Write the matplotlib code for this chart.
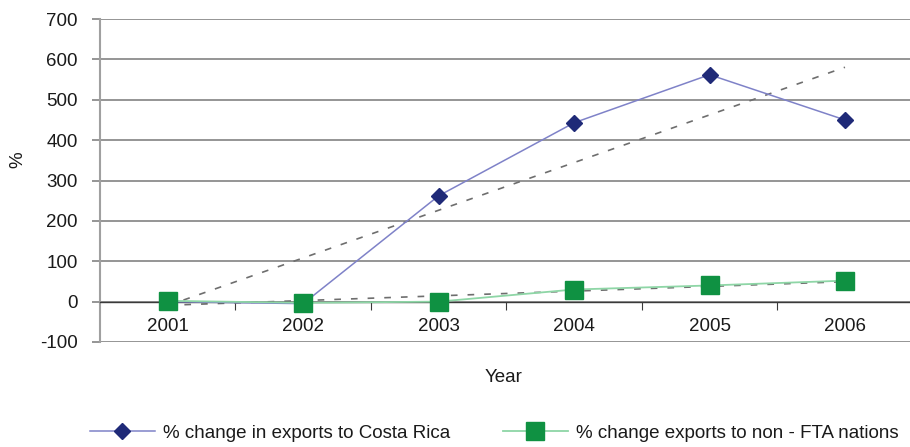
import numpy as np
import matplotlib
matplotlib.use("Agg")
import matplotlib.pyplot as plt

plt.rcParams['font.family'] = ['Liberation Sans', 'DejaVu Sans']
plt.rcParams['axes.unicode_minus'] = False

years = ['2001', '2002', '2003', '2004', '2005', '2006']
costa_rica = [0, -5, 262, 443, 562, 450]
non_fta = [2, -3, 0, 30, 40, 52]

x = np.arange(1, len(years) + 1)
fs = 13.5

fig = plt.figure(figsize=(9.1, 4.47), dpi=100)
ax = fig.add_axes([100 / 910, 1 - 342 / 447, 812.7 / 910, 323 / 447])

# horizontal grid
for g in range(-100, 701, 100):
    ax.axhline(g, color='#8c8c8c', lw=1.3, zorder=0)

# linear trend lines
for series in (costa_rica, non_fta):
    k, b = np.polyfit(x, series, 1)
    ax.plot(x, k * x + b, color='#6e6e6e', lw=1.2, ls=(0, (4, 6)), zorder=2)

ax.plot(x, costa_rica, color='#7f82c8', lw=1.1, marker='D', ms=8,
        mfc='#1f2a78', mec='#1f2a78', zorder=3,
        label='% change in exports to Costa Rica')
ax.plot(x, non_fta, color='#8ed6a6', lw=1.3, marker='s', ms=13,
        mfc='#0f9142', mec='#0f9142', zorder=4,
        label='% change exports to non - FTA nations')

ax.set_xlim(0.5, 6.5)
ax.set_ylim(-100, 700)
ax.set_yticks(range(-100, 701, 100))

# x axis sits on the zero line
ax.spines['bottom'].set_position(('data', 0))
ax.spines['bottom'].set_color('#3a3a3a')
ax.spines['bottom'].set_linewidth(1.0)
ax.spines['left'].set_color('#a0a0a0')
ax.spines['left'].set_linewidth(1.5)
ax.spines['top'].set_visible(False)
ax.spines['right'].set_visible(False)

ax.set_xticks(x[:-1] + 0.5)
ax.set_xticklabels([])
ax.set_xticks(x, minor=True)
ax.set_xticklabels(years, minor=True)
ax.tick_params(axis='x', which='major', direction='out', length=6, color='#3a3a3a')
ax.tick_params(axis='x', which='minor', length=0, pad=12, labelsize=fs, labelcolor='#1a1a1a')
ax.tick_params(axis='y', direction='out', length=6, color='#8c8c8c', width=1.3,
               labelsize=fs, labelcolor='#1a1a1a', pad=10)

fig.text(504 / 910, 1 - 378 / 447, 'Year', ha='center', va='center', fontsize=fs, color='#1a1a1a')
fig.text(18 / 910, 1 - 160 / 447, '%', ha='center', va='center', rotation=90, fontsize=fs, color='#1a1a1a')

fig.legend(loc='center', bbox_to_anchor=(494 / 910, 1 - 433 / 447), ncol=2, frameon=False,
           fontsize=fs, handlelength=3.5, columnspacing=2.8, handletextpad=0.4,
           labelcolor='#1a1a1a')

fig.savefig('out.png', dpi=100)
